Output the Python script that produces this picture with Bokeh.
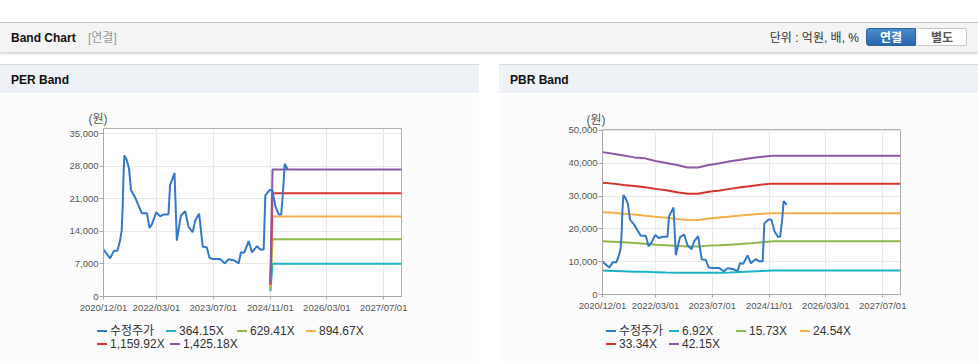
import pandas as pd
from bokeh.plotting import figure
from bokeh.models import (Div, FixedTicker, DatetimeTickFormatter,
                          NumeralTickFormatter, Range1d, ColumnDataSource)
from bokeh.layouts import column, row
from bokeh.embed import file_html
from bokeh.resources import INLINE

FONT = "Liberation Sans, Noto Sans CJK KR"

# ---------------- data ----------------
x_tick_dates = ["2020-12-01", "2022-03-01", "2023-07-01", "2024-11-01", "2026-03-01", "2027-07-01"]
x_start = "2020-12-01"
x_end = "2027-12-01"

price_label = "수정주가"
price_dates = ["2020-12-01", "2021-01-27", "2021-03-01", "2021-03-30", "2021-04-22", "2021-05-06",
               "2021-05-15", "2021-05-20", "2021-05-29", "2021-06-18", "2021-07-08", "2021-07-25",
               "2021-08-29", "2021-10-25", "2021-12-08", "2021-12-31", "2022-01-20", "2022-02-26",
               "2022-04-01", "2022-04-29", "2022-06-11", "2022-06-25", "2022-08-02", "2022-08-22",
               "2022-09-26", "2022-11-02", "2022-11-30", "2023-01-04", "2023-01-27", "2023-03-01",
               "2023-04-01", "2023-05-06", "2023-05-29", "2023-06-27", "2023-08-29", "2023-10-08",
               "2023-11-09", "2023-12-22", "2024-02-03", "2024-02-23", "2024-03-22", "2024-04-29",
               "2024-05-27", "2024-07-09", "2024-08-07", "2024-09-05", "2024-09-19", "2024-10-27",
               "2024-11-19", "2024-12-15", "2025-01-13", "2025-02-02", "2025-02-19", "2025-03-04",
               "2025-03-30"]
price_values = [10050, 8200, 9850, 9850, 12000, 14200,
                19500, 24900, 30300, 29300, 27500, 22800,
                21300, 17900, 17900, 14700, 15500, 18100,
                17200, 17600, 17600, 23900, 26500, 12000,
                17400, 18300, 15000, 13800, 16300, 17800,
                10700, 10600, 8300, 8050, 8050, 7100,
                8000, 7800, 7100, 9500, 9400, 11900,
                9500, 10800, 10100, 10100, 21700, 22900,
                22800, 19300, 17600, 17600, 22900, 28500,
                27300]

per_y_ticks = [0, 7000, 14000, 21000, 28000, 35000]
per_y_max = 36080
per_band_labels = ["364.15X", "629.41X", "894.67X", "1,159.92X", "1,425.18X"]
per_band_dates = ["2024-11-01", "2024-11-20", "2027-12-01"]
per_band_364 = [1100, 7050, 7050]
per_band_629 = [1500, 12300, 12300]
per_band_894 = [2000, 17200, 17200]
per_band_1159 = [2500, 22200, 22200]
per_band_1425 = [3000, 27300, 27300]

pbr_y_ticks = [0, 10000, 20000, 30000, 40000, 50000]
pbr_y_max = 50300
pbr_band_labels = ["6.92X", "15.73X", "24.54X", "33.34X", "42.15X"]
pbr_band_dates = ["2020-12-01", "2021-03-01", "2021-06-01", "2021-09-01", "2021-12-01", "2022-03-01",
                  "2022-06-01", "2022-09-01", "2022-12-01", "2023-03-01", "2023-06-01", "2023-09-01",
                  "2023-12-01", "2024-03-01", "2024-06-01", "2024-09-01", "2024-12-01", "2027-12-01"]
pbr_band_692 = [7280, 7200, 7100, 6970, 6900, 6800, 6700, 6650, 6650, 6650, 6650, 6650,
                6700, 6850, 7000, 7150, 7280, 7280]
pbr_band_1573 = [16200, 16100, 15900, 15700, 15500, 15200, 15000, 14800, 14650, 14650, 14900, 15000,
                 15200, 15400, 15600, 15900, 16200, 16200]
pbr_band_2454 = [25100, 24900, 24600, 24400, 24000, 23700, 23400, 23000, 22700, 22700, 23200, 23500,
                 23800, 24100, 24400, 24600, 24800, 24800]
pbr_band_3334 = [34100, 33800, 33400, 33100, 32700, 32200, 31800, 31200, 30700, 30700, 31300, 31700,
                 32200, 32700, 33100, 33500, 33800, 33800]
pbr_band_4215 = [43400, 42900, 42400, 41800, 41500, 40700, 40100, 39500, 38700, 38700, 39500, 40000,
                 40600, 41100, 41600, 42000, 42300, 42300]

unit_label = "(원)"

PRICE_COLOR = "#3479c9"
BAND_COLORS = ["#1db3c6", "#8db84d", "#f4b04a", "#d8322d", "#8c58a6"]

HF = "font-family:'Liberation Sans','Noto Sans CJK KR',sans-serif;"


def ts(d):
    return pd.Timestamp(d)


def ms(d):
    return pd.Timestamp(d).value / 1e6


def make_chart(band_dates, bands, y_max, y_ticks, top, frame_h, left_lbl_off):
    W, H = 479, 224
    p = figure(width=W, height=H, x_axis_type="datetime",
               x_range=Range1d(ts(x_start), ts(x_end)), y_range=Range1d(0, y_max),
               output_backend="svg", toolbar_location=None,
               min_border_left=103, min_border_right=78,
               min_border_top=top, min_border_bottom=H - top - frame_h, margin=(0, 0, 0, 0))
    p.border_fill_color = "#fcfcfc"
    p.background_fill_color = "#ffffff"
    p.outline_line_color = "#b0b0b0"
    p.outline_line_width = 1

    p.title.text = unit_label
    p.title.align = "left"
    p.title.offset = left_lbl_off
    p.title.standoff = 6
    p.title.text_font = FONT
    p.title.text_font_size = "12px"
    p.title.text_font_style = "normal"
    p.title.text_color = "#555555"

    p.xaxis.ticker = FixedTicker(ticks=[ms(d) for d in x_tick_dates])
    p.xaxis.formatter = DatetimeTickFormatter(days="%Y/%m/%d", months="%Y/%m/%d", years="%Y/%m/%d")
    p.yaxis.ticker = FixedTicker(ticks=y_ticks)
    p.yaxis.formatter = NumeralTickFormatter(format="0,0")
    for ax in (p.xaxis[0], p.yaxis[0]):
        ax.axis_line_color = "#a8a8a8"
        ax.major_tick_line_color = "#a8a8a8"
        ax.minor_tick_line_color = None
        ax.major_tick_in = 0
        ax.major_label_text_font = FONT
        ax.major_label_text_font_size = "9.5px"
        ax.major_label_text_color = "#555555"
    p.xaxis.major_tick_out = 3
    p.xaxis.major_label_standoff = 2
    p.yaxis.major_tick_out = 4
    p.yaxis.major_label_standoff = 1
    p.xgrid.grid_line_color = "#e8e8e8"
    p.ygrid.grid_line_color = "#e8e8e8"

    bx = [ts(d) for d in band_dates]
    for vals, col in zip(bands, BAND_COLORS):
        s = ColumnDataSource(dict(x=bx, y=vals))
        p.line("x", "y", source=s, line_color=col, line_width=2)
    src = ColumnDataSource(dict(x=[ts(d) for d in price_dates], y=price_values))
    p.line("x", "y", source=src, line_color=PRICE_COLOR, line_width=2)
    return p


def legend_div(labels, colors, lefts1, lefts2):
    parts = [f'<div style="position:relative;width:479px;height:44px;background:#fcfcfc;{HF}">']
    for i, (lab, col) in enumerate(zip(labels, colors)):
        if i < 4:
            left, top = lefts1[i], 6
        else:
            left, top = lefts2[i - 4], 19
        parts.append(
            f'<div style="position:absolute;left:{left}px;top:{top}px;height:14px;line-height:14px;'
            f'white-space:nowrap;font-size:12px;color:#333;">'
            f'<span style="display:inline-block;width:10px;height:2px;background:{col};'
            f'vertical-align:middle;margin-right:3px;margin-bottom:2px;"></span>{lab}</div>')
    parts.append('</div>')
    return Div(text="".join(parts), width=479, height=44, margin=(0, 0, 0, 0))


per_fig = make_chart(per_band_dates,
                     [per_band_364, per_band_629, per_band_894, per_band_1159, per_band_1425],
                     per_y_max, per_y_ticks, 34, 168, -15)
pbr_fig = make_chart(pbr_band_dates,
                     [pbr_band_692, pbr_band_1573, pbr_band_2454, pbr_band_3334, pbr_band_4215],
                     pbr_y_max, pbr_y_ticks, 35, 165, -16)

all_colors = [PRICE_COLOR] + BAND_COLORS
per_legend = legend_div([price_label] + per_band_labels, all_colors, [97, 166, 237, 306], [97, 170])
pbr_legend = legend_div([price_label] + pbr_band_labels, all_colors, [107, 170, 237, 301], [107, 170])

header_html = (
    f'<div style="position:relative;width:978px;height:64px;{HF}">'
    '<div style="position:absolute;left:0;top:22px;width:978px;height:30px;background:#f4f4f4;'
    'border-top:1px solid #c2c2c2;box-shadow:0 2px 2px rgba(0,0,0,0.16);"></div>'
    '<span style="position:absolute;left:11px;top:31px;line-height:14px;font-size:12px;'
    'font-weight:bold;color:#111;">Band Chart</span>'
    '<span style="position:absolute;left:88px;top:31px;line-height:14px;font-size:12px;'
    'color:#999;">[연결]</span>'
    '<span style="position:absolute;right:119px;top:31px;line-height:14px;font-size:12px;'
    'color:#333;">단위 : 억원, 배, %</span>'
    '<div style="position:absolute;left:866px;top:28px;width:50px;height:18px;'
    'background:linear-gradient(#4a8bd0,#2a66ab);border:1px solid #2a62a5;'
    'border-radius:3px 0 0 3px;color:#fff;font-weight:bold;font-size:12px;'
    'text-align:center;line-height:18px;">연결</div>'
    '<div style="position:absolute;left:918px;top:28px;width:49px;height:18px;background:#fff;'
    'border:1px solid #c8c8c8;border-left:none;border-radius:0 3px 3px 0;color:#555;'
    'font-weight:bold;font-size:12px;text-align:center;line-height:18px;">별도</div>'
    '</div>')
header = Div(text=header_html, width=978, height=64, margin=(0, 0, 0, 0))


def title_div(t):
    html = (f'<div style="position:relative;width:479px;height:29px;border-top:1px solid #d8d8d8;'
            f'background:#eef2f7;{HF}">'
            f'<span style="position:absolute;left:11px;top:8px;line-height:14px;font-size:12px;'
            f'font-weight:bold;color:#111;">{t}</span></div>')
    return Div(text=html, width=479, height=30, margin=(0, 0, 0, 0))


def bottom_div():
    return Div(text='<div style="width:479px;height:1px;background:#d0d0d0;"></div>',
               width=479, height=1, margin=(0, 0, 0, 0))


per_panel = column(title_div("PER Band"), per_fig, per_legend, bottom_div(), spacing=0,
                   margin=(0, 0, 0, 0))
pbr_panel = column(title_div("PBR Band"), pbr_fig, pbr_legend, bottom_div(), spacing=0,
                   margin=(0, 0, 0, 0))
panels = row(per_panel, pbr_panel, spacing=20, margin=(0, 0, 0, 0))
root = column(header, panels, spacing=0, margin=(0, 0, 0, 0))

open("out.html", "w").write(file_html(root, INLINE))
